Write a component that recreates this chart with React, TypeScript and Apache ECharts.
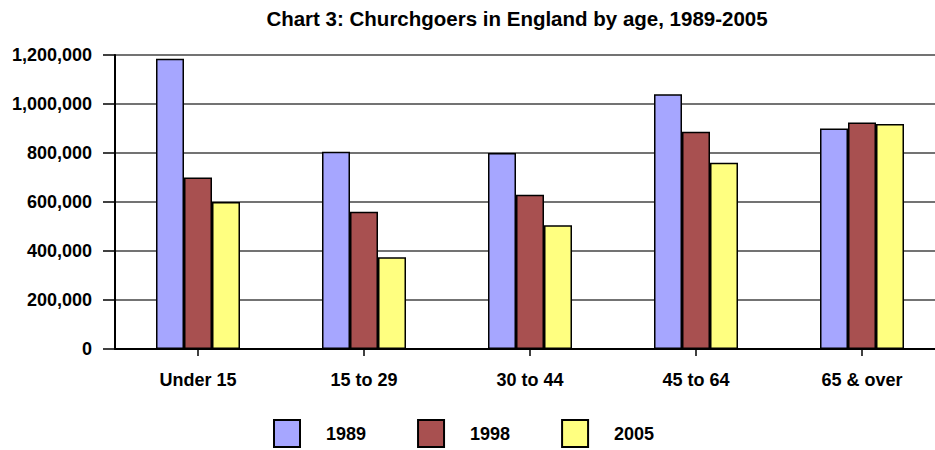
import React, { useEffect, useRef } from "react";
import * as echarts from "echarts";

const categories = ["Under 15", "15 to 29", "30 to 44", "45 to 64", "65 & over"];
const years = ["1989", "1998", "2005"];
const values1989 = [1185000, 805000, 800000, 1040000, 900000];
const values1998 = [700000, 560000, 630000, 887000, 924000];
const values2005 = [600000, 375000, 505000, 760000, 918000];
const colors = ["#a6a6ff", "#a85050", "#ffff80"];
const titleText = "Chart 3: Churchgoers in England by age, 1989-2005";

export default function App() {
  const ref = useRef<HTMLDivElement>(null);
  useEffect(() => {
    document.body.style.margin = "0";
    document.body.style.overflow = "hidden";
    const chart = echarts.init(ref.current!, null, { renderer: "svg" });
    const font = "'Liberation Sans', Arial, sans-serif";
    const seriesData = [values1989, values1998, values2005];
    chart.setOption({
      animation: false,
      backgroundColor: "#ffffff",
      title: {
        text: titleText,
        left: 512,
        textAlign: "center",
        top: 3,
        textStyle: { fontFamily: font, fontWeight: "bold", fontSize: 20.5, color: "#000" },
      },
      legend: {
        data: years,
        bottom: -3,
        left: 268,
        itemWidth: 26,
        itemHeight: 27,
        itemGap: 51,
        icon: "rect",
        textStyle: {
          fontFamily: font,
          fontWeight: "bold",
          fontSize: 18,
          color: "#000",
          padding: [0, 0, 0, 21],
        },
      },
      grid: { left: 115, right: 0, top: 55, bottom: 101 },
      xAxis: {
        type: "category",
        data: categories,
        axisLine: { lineStyle: { color: "#000", width: 2 } },
        axisTick: { show: true, alignWithLabel: true, length: 7, lineStyle: { color: "#000", width: 1.5 } },
        axisLabel: { margin: 22, fontFamily: font, fontWeight: "bold", fontSize: 18, color: "#000" },
      },
      yAxis: {
        type: "value",
        min: 0,
        max: 1200000,
        interval: 200000,
        axisLine: { show: true, lineStyle: { color: "#000", width: 2 } },
        axisTick: { show: true, length: 12, lineStyle: { color: "#000", width: 1.5 } },
        axisLabel: {
          margin: 23,
          fontFamily: font,
          fontWeight: "bold",
          fontSize: 18,
          color: "#000",
          formatter: (v: number) => v.toLocaleString("en-US"),
        },
        splitLine: { lineStyle: { color: "#444", width: 1.5 } },
      },
      series: years.map((y, i) => ({
        name: y,
        type: "bar",
        data: seriesData[i],
        barWidth: 28,
        barGap: "0%",
        itemStyle: { color: colors[i], borderColor: "#000", borderWidth: 1.5 },
      })),
    });
    return () => chart.dispose();
  }, []);
  return <div ref={ref} style={{ width: 945, height: 450 }} />;
}
